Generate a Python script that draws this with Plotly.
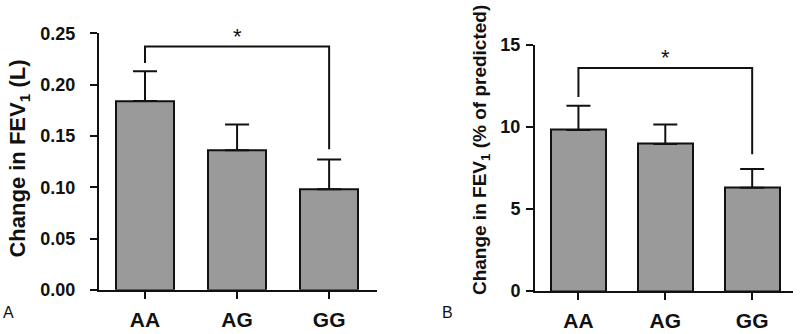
import plotly.graph_objects as go

genotypes = ["AA", "AG", "GG"]

# Panel A: change in FEV1 (L)
fev_l_mean = [0.184, 0.136, 0.098]
fev_l_sem = [0.029, 0.025, 0.029]
fev_l_ticks = [0.00, 0.05, 0.10, 0.15, 0.20, 0.25]
fev_l_ticktext = ["0.00", "0.05", "0.10", "0.15", "0.20", "0.25"]
bracket_a = {"top": 0.237, "left_end": 0.221, "right_end": 0.137}

# Panel B: change in FEV1 (% of predicted)
fev_pct_mean = [9.80, 8.95, 6.29]
fev_pct_sem = [1.47, 1.18, 1.13]
fev_pct_ticks = [0, 5, 10, 15]
bracket_b = {"top": 13.57, "left_end": 11.8, "right_end": 8.33}

BAR_COLOR = "#9a9a9a"
LINE = "#111111"
FONT = "Liberation Sans, Arial, sans-serif"

fig = go.Figure()

def add_panel(means, sems, bracket, xa, ya):
    xs = list(range(len(genotypes)))
    fig.add_trace(go.Bar(
        x=xs, y=means, width=0.63,
        marker=dict(color=BAR_COLOR, line=dict(color=LINE, width=2)),
        error_y=dict(type="data", array=sems, arrayminus=[0] * len(sems),
                     symmetric=False, color=LINE, thickness=2, width=12),
        xaxis=xa, yaxis=ya, showlegend=False, hoverinfo="skip",
    ))
    fig.add_trace(go.Scatter(
        x=[xs[0], xs[0], xs[-1], xs[-1]],
        y=[bracket["left_end"], bracket["top"], bracket["top"], bracket["right_end"]],
        mode="lines", line=dict(color=LINE, width=2),
        xaxis=xa, yaxis=ya, showlegend=False, hoverinfo="skip",
    ))
    fig.add_annotation(x=(xs[0] + xs[-1]) / 2, y=bracket["top"], xref=xa, yref=ya,
                       text="*", showarrow=False, yanchor="bottom", yshift=-4,
                       font=dict(family=FONT, size=22, color=LINE))

add_panel(fev_l_mean, fev_l_sem, bracket_a, "x", "y")
add_panel(fev_pct_mean, fev_pct_sem, bracket_b, "x2", "y2")

xcommon = dict(
    tickmode="array", tickvals=[0, 1, 2], ticktext=genotypes,
    showline=True, linecolor=LINE, linewidth=2, ticks="outside", ticklen=7,
    tickwidth=2, tickcolor=LINE, showgrid=False, zeroline=False,
    tickfont=dict(family=FONT, size=21, color=LINE, weight="bold"),
    ticklabelstandoff=3, fixedrange=True,
)
ycommon = dict(
    showline=True, linecolor=LINE, linewidth=2, ticks="outside", ticklen=7,
    tickwidth=2, tickcolor=LINE, showgrid=False, zeroline=False,
    tickfont=dict(family=FONT, size=18, color=LINE, weight="bold"),
    fixedrange=True,
)

fig.update_layout(
    width=800, height=334,
    margin=dict(l=0, r=0, t=0, b=0),
    paper_bgcolor="white", plot_bgcolor="white",
    bargap=0,
    xaxis=dict(domain=[99 / 800, 377 / 800], range=[-0.5, 2.52], anchor="y", **xcommon),
    yaxis=dict(domain=[(334 - 297.7) / 334, (334 - 24.7) / 334], range=[0, 0.25],
               anchor="x", tickmode="array", tickvals=fev_l_ticks, ticktext=fev_l_ticktext,
               ticklabelstandoff=11, **ycommon),
    xaxis2=dict(domain=[535 / 800, 793 / 800], range=[-0.5, 2.47], anchor="y2", **xcommon),
    yaxis2=dict(domain=[(334 - 299) / 334, (334 - 36.7) / 334], range=[0, 15],
                anchor="x2", tickmode="array", tickvals=fev_pct_ticks,
                ticklabelstandoff=2, **ycommon),
)

fig.add_annotation(x=19 / 800, y=(334 - 158) / 334, xref="paper", yref="paper",
                   text="Change in FEV<sub>1</sub> (L)", textangle=-90, showarrow=False,
                   font=dict(family=FONT, size=22, color=LINE, weight="bold"),
                   xanchor="center", yanchor="middle")
fig.add_annotation(x=481 / 800, y=(334 - 149) / 334, xref="paper", yref="paper",
                   text="Change in FEV<sub>1</sub> (% of predicted)", textangle=-90,
                   showarrow=False, font=dict(family=FONT, size=19, color=LINE, weight="bold"),
                   xanchor="center", yanchor="middle")

panel_font = dict(family=FONT, size=16, color=LINE)
fig.add_annotation(x=1 / 800, y=(334 - 322) / 334, xref="paper", yref="paper", text="A",
                   showarrow=False, font=panel_font, xanchor="left", yanchor="middle")
fig.add_annotation(x=440 / 800, y=(334 - 322) / 334, xref="paper", yref="paper", text="B",
                   showarrow=False, font=panel_font, xanchor="left", yanchor="middle")

fig.write_html("out.html", config={"displayModeBar": False},
               post_script="document.body.style.margin='0';document.body.style.overflow='hidden';")
